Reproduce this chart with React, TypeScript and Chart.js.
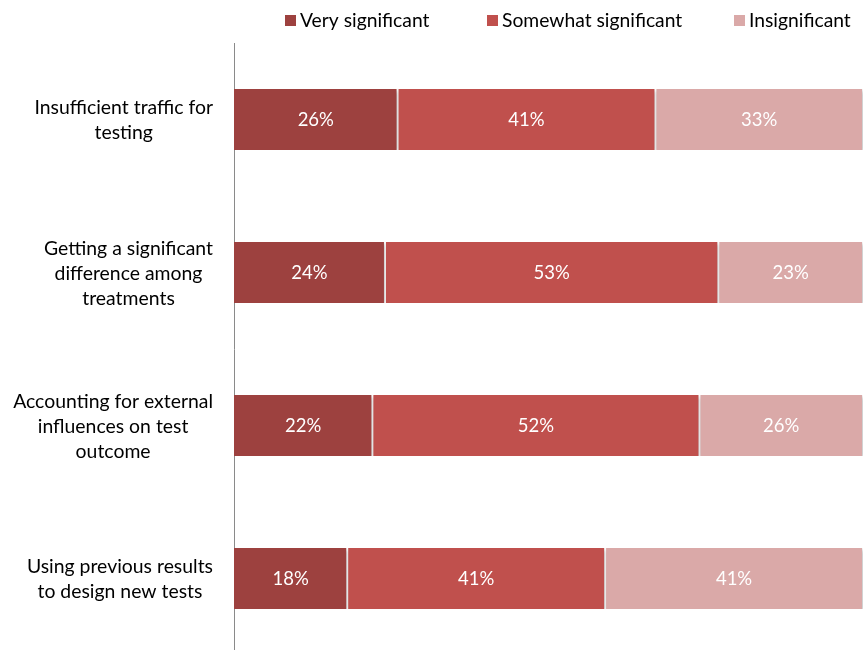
import React, { useEffect, useRef } from "react";
import { Chart, registerables } from "chart.js";

Chart.register(...registerables);

const categories: string[][] = [
  ["Insufficient traffic for", "testing"],
  ["Getting a significant", "difference among", "treatments"],
  ["Accounting for external", "influences on test", "outcome"],
  ["Using previous results", "to design new tests"],
];
const seriesNames = ["Very significant", "Somewhat significant", "Insignificant"];
const verySignificant = [26, 24, 22, 18];
const somewhatSignificant = [41, 53, 52, 41];
const insignificant = [33, 23, 26, 41];
const seriesColors = ["#9D413F", "#C0504D", "#DAA9A8"];
const legendX = [285, 487, 734];

const FONT = "Lato, 'Liberation Sans', sans-serif";

const legendPlugin = {
  id: "customLegend",
  afterDraw(chart: any) {
    const ctx = chart.ctx;
    ctx.save();
    ctx.font = `19.3px ${FONT}`;
    ctx.textBaseline = "middle";
    ctx.textAlign = "left";
    seriesNames.forEach((name, i) => {
      const x = legendX[i];
      ctx.fillStyle = seriesColors[i];
      ctx.fillRect(x, 15, 11, 11);
      ctx.fillStyle = "#000";
      ctx.fillText(name, x + 15, 21);
    });
    ctx.restore();
  },
};

const categoryLabelPlugin = {
  id: "categoryLabels",
  afterDraw(chart: any) {
    const ctx = chart.ctx;
    const yScale = chart.scales.y;
    const lh = 25;
    ctx.save();
    ctx.font = `19.4px ${FONT}`;
    ctx.textBaseline = "middle";
    ctx.textAlign = "center";
    ctx.fillStyle = "#000";
    categories.forEach((lines, i) => {
      const cy = yScale.getPixelForValue(i) + 1;
      const maxW = Math.max(...lines.map((l) => ctx.measureText(l).width));
      const cx = 213 - maxW / 2;
      const y0 = cy - ((lines.length - 1) * lh) / 2;
      lines.forEach((l, j) => ctx.fillText(l, cx, y0 + j * lh));
    });
    ctx.restore();
  },
};

const shadowPlugin = {
  id: "barShadow",
  beforeDatasetsDraw(chart: any) {
    const ctx = chart.ctx;
    ctx.save();
    ctx.shadowColor = "rgba(0,0,0,0.3)";
    ctx.shadowBlur = 4;
    ctx.shadowOffsetX = 1;
    ctx.shadowOffsetY = 2;
  },
  afterDatasetsDraw(chart: any) {
    chart.ctx.restore();
  },
};

const valueLabelPlugin = {
  id: "valueLabels",
  afterDatasetsDraw(chart: any) {
    const ctx = chart.ctx;
    ctx.save();
    ctx.font = `18.5px ${FONT}`;
    ctx.textBaseline = "middle";
    ctx.textAlign = "center";
    ctx.fillStyle = "#fff";
    chart.data.datasets.forEach((ds: any, di: number) => {
      const meta = chart.getDatasetMeta(di);
      meta.data.forEach((bar: any, i: number) => {
        const x = (bar.x + bar.base) / 2;
        ctx.fillText(`${ds.data[i]}%`, x, bar.y + 1);
      });
    });
    ctx.restore();
  },
};

export default function App() {
  const canvasRef = useRef<HTMLCanvasElement | null>(null);

  useEffect(() => {
    const canvas = canvasRef.current;
    if (!canvas) return;
    const values = [verySignificant, somewhatSignificant, insignificant];
    const chart = new Chart(canvas, {
      type: "bar",
      data: {
        labels: categories.map((c) => c.join(" ")),
        datasets: seriesNames.map((name, i) => ({
          label: name,
          data: values[i],
          backgroundColor: seriesColors[i],
          borderColor: "#ffffff",
          borderWidth: i === 0 ? { left: 0, right: 1, top: 0, bottom: 0 } : { left: 1, right: 1, top: 0, bottom: 0 },
          borderSkipped: false,
          barPercentage: 0.4,
          categoryPercentage: 1,
        })),
      },
      options: {
        indexAxis: "y",
        responsive: false,
        animation: false,
        devicePixelRatio: 1,
        layout: { padding: { top: 43, left: 0, right: 0, bottom: 0 } },
        plugins: {
          legend: { display: false },
          tooltip: { enabled: false },
          title: { display: false },
        },
        scales: {
          x: {
            stacked: true,
            min: 0,
            max: 100,
            display: false,
          },
          y: {
            stacked: true,
            ticks: { display: false },
            grid: { display: false },
            border: { display: true, color: "#8A8A8A", width: 1 },
            afterFit: (scale: any) => {
              scale.width = 234;
            },
          },
        },
      } as any,
      plugins: [shadowPlugin, valueLabelPlugin, categoryLabelPlugin, legendPlugin],
    });
    return () => chart.destroy();
  }, []);

  return (
    <div style={{ position: "fixed", left: 0, top: 0, width: 863, height: 655, background: "#fff" }}>
      <canvas ref={canvasRef} width={863} height={655} style={{ display: "block" }} />
    </div>
  );
}
